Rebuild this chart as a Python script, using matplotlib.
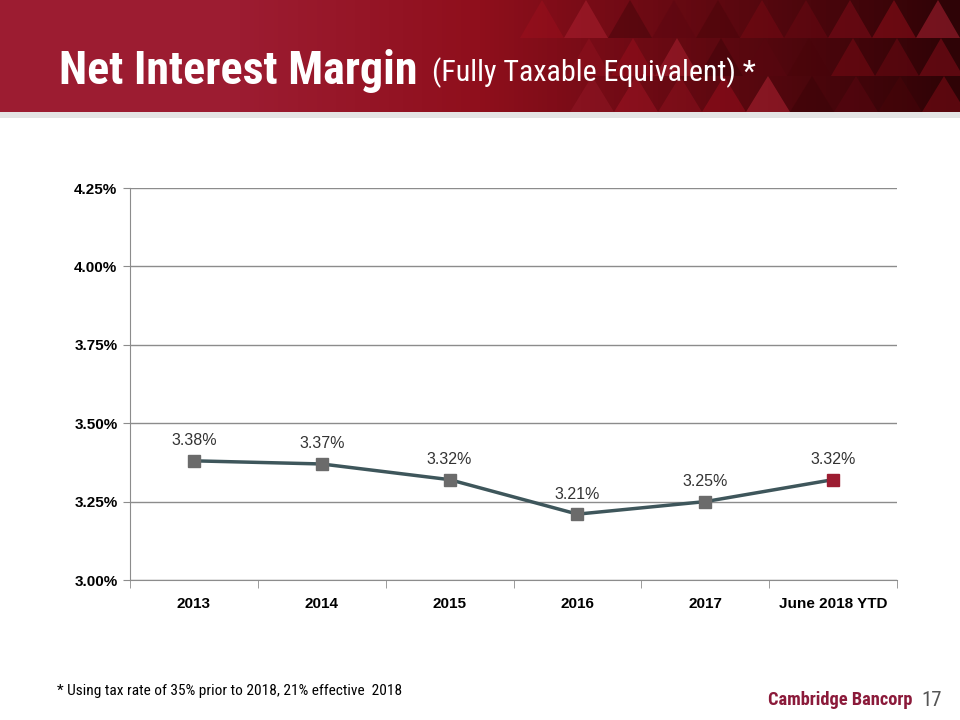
import numpy as np
import matplotlib
matplotlib.use('Agg')
import matplotlib.pyplot as plt
from matplotlib.patches import Polygon, Rectangle
from matplotlib import font_manager

categories = ['2013', '2014', '2015', '2016', '2017', 'June 2018 YTD']
nim = [3.38, 3.37, 3.32, 3.21, 3.25, 3.32]
nim_labels = ['3.38%', '3.37%', '3.32%', '3.21%', '3.25%', '3.32%']
yticks = [3.00, 3.25, 3.50, 3.75, 4.00, 4.25]
ytick_labels = ['3.00%', '3.25%', '3.50%', '3.75%', '4.00%', '4.25%']

plt.rcParams['font.family'] = ['Liberation Sans', 'DejaVu Sans']
fonts = font_manager.fontManager.ttflist
narrow_pref = ['Liberation Sans Narrow', 'Arial Narrow', 'Roboto Condensed',
               'Archivo Narrow', 'PT Sans Narrow', 'Open Sans Condensed']


def pick(bold):
    for fam in narrow_pref:
        for f in fonts:
            if f.name == fam and (not bold or (isinstance(f.weight, int) and f.weight >= 600)
                                  or f.weight in ('bold', 'semibold')):
                return [fam, 'DejaVu Sans']
    return ['Liberation Sans', 'DejaVu Sans']


narrow = pick(False)
narrow_b = pick(True)

fig = plt.figure(figsize=(9.6, 7.2), dpi=100)
fig.patch.set_facecolor('white')

# header band
hdr = fig.add_axes([0, 1 - 118 / 720, 1, 118 / 720])
hdr.set_xlim(0, 960)
hdr.set_ylim(118, 0)
hdr.axis('off')
hdr.add_patch(Rectangle((0, 112), 960, 6, color='#e4e4e4', lw=0))
grad = np.linspace(0, 1, 200)
cmap = matplotlib.colors.LinearSegmentedColormap.from_list(
    'hdr', ['#9c1c31', '#9c1c31', '#8f0f1c', '#5e0810', '#2e0306'])
hdr.imshow(grad[None, :], extent=(0, 960, 112, 0), aspect='auto', cmap=cmap, zorder=0)
tri_cols = ['#a8101f', '#7a0a14', '#b3182a', '#5a0610', '#8c0d19', '#c0283a',
            '#6b0812', '#9a1422', '#480409', '#a01e2e', '#3a0307', '#7e0c18']
w = 44
k = 0
for row in range(3):
    y0 = row * 38
    for i in range(12):
        x0 = 520 + row * 25 + i * w + (row % 2) * w / 2
        if x0 > 980:
            continue
        hdr.add_patch(Polygon([[x0, min(y0 + 38, 112)], [x0 + w / 2, y0],
                               [x0 + w, min(y0 + 38, 112)]],
                              closed=True, color=tri_cols[k % len(tri_cols)],
                              alpha=0.35 + 0.35 * (i / 12), lw=0, zorder=1))
        k += 5

renderer = fig.canvas.get_renderer()


def fit_text(xpx, ypx, s, width_px, size, ha='left', **kw):
    t = fig.text(xpx / 960, 1 - ypx / 720, s, fontsize=size, va='center', ha=ha, **kw)
    wnow = t.get_window_extent(renderer).width
    t.set_fontsize(size * width_px / wnow)
    return t


fit_text(59, 71, 'Net Interest Margin', 359, 30, color='white', fontweight='bold',
         family=narrow_b)
fit_text(432, 73, '(Fully Taxable Equivalent) *', 323, 20, color='white', family=narrow)

# chart
ax = fig.add_axes([130 / 960, 1 - 580 / 720, 767 / 960, 392 / 720])
x = np.arange(len(categories))
ax.plot(x, nim, color='#3e565b', lw=2.5, zorder=3)
ax.plot(x[:-1], nim[:-1], 's', color='#6b6b6b', ms=8, zorder=4)
ax.plot(x[-1:], nim[-1:], 's', color='#9c1c31', ms=8, zorder=4)
for xi, v, lab in zip(x, nim, nim_labels):
    ax.annotate(lab, (xi, v), xytext=(0, 9), textcoords='offset points',
                ha='center', va='bottom', fontsize=11.5, color='#333333')

ax.set_xlim(-0.5, len(categories) - 0.5)
ax.set_ylim(3.0, 4.25)
ax.set_yticks(yticks)
ax.set_yticklabels(ytick_labels, fontsize=11, fontweight='bold')
ax.set_xticks(x)
ax.set_xticklabels(categories, fontsize=11, fontweight='bold')
ax.set_xticks(np.arange(-0.5, len(categories), 1), minor=True)
ax.tick_params(axis='x', which='major', length=0, pad=12)
ax.tick_params(axis='x', which='minor', length=6, color='#8c8c8c', direction='out')
ax.tick_params(axis='y', length=5, color='#8c8c8c', pad=4)
ax.grid(axis='y', color='#8c8c8c', lw=1)
ax.set_axisbelow(True)
for s in ['top', 'right']:
    ax.spines[s].set_visible(False)
for s in ['left', 'bottom']:
    ax.spines[s].set_color('#8c8c8c')

# footer
fit_text(57, 691, '* Using tax rate of 35% prior to 2018, 21% effective  2018', 346, 11,
         family=narrow, color='black')
fit_text(768, 700, 'Cambridge Bancorp', 144, 13, fontweight='bold', family=narrow_b,
         color='#8b1a3a')
fig.text(921 / 960, 1 - 700 / 720, '17', fontsize=15, family=narrow, color='#555555',
         va='center', ha='left')

fig.savefig('out.png', dpi=100)
